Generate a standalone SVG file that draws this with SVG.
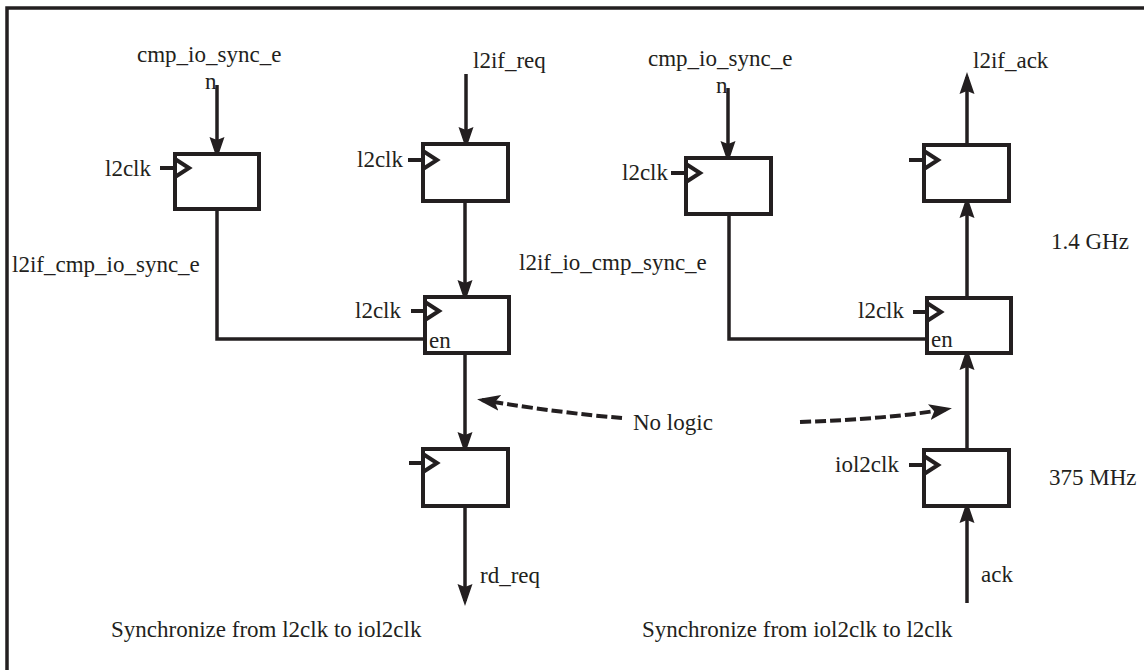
<svg xmlns="http://www.w3.org/2000/svg" width="1144" height="670" viewBox="0 0 1144 670">
<defs>
<style>
text{font-family:"Liberation Serif","Times New Roman",serif;font-size:23px;fill:#231f20}
.box{fill:#fff;stroke:#231f20;stroke-width:4}
.w{fill:none;stroke:#231f20;stroke-width:3.5}
.clk{fill:none;stroke:#231f20;stroke-width:4}
.dash{fill:none;stroke:#231f20;stroke-width:4;stroke-dasharray:11 4}
.frame{fill:none;stroke:#231f20;stroke-width:3.5}
</style>
<marker id="ah" markerUnits="userSpaceOnUse" markerWidth="22" markerHeight="16" viewBox="0 0 22 16" refX="17" refY="8" orient="auto">
<path d="M0,0.5 L22,8 L0,15.5 L3,8 z" fill="#231f20"/>
</marker>
<marker id="ahd" markerUnits="userSpaceOnUse" markerWidth="24" markerHeight="18" viewBox="0 0 24 18" refX="18" refY="9" orient="auto">
<path d="M0,1 L23,9 L0,17 L5,9 z" fill="#231f20"/>
</marker>
</defs>
<path class="frame" d="M1144,8 L7,8 L7,670"/>

<g id="connectors">
<line class="w" x1="217" y1="85" x2="217" y2="154" marker-end="url(#ah)"/>
<line class="w" x1="466" y1="74" x2="466" y2="144" marker-end="url(#ah)"/>
<line class="w" x1="728" y1="88" x2="728" y2="158" marker-end="url(#ah)"/>
<line class="w" x1="967" y1="145" x2="967" y2="77" marker-end="url(#ah)"/>
<path class="w" d="M217,209 L217,339 L425,339"/>
<path class="w" d="M729,214 L729,339 L927,339"/>
<line class="w" x1="465" y1="201" x2="465" y2="297" marker-end="url(#ah)"/>
<line class="w" x1="465" y1="353" x2="465" y2="449" marker-end="url(#ah)"/>
<line class="w" x1="465" y1="506" x2="465" y2="601" marker-end="url(#ah)"/>
<line class="w" x1="967" y1="298" x2="967" y2="201" marker-end="url(#ah)"/>
<line class="w" x1="967" y1="450" x2="967" y2="353" marker-end="url(#ah)"/>
<line class="w" x1="967" y1="603" x2="967" y2="506" marker-end="url(#ah)"/>
<path class="dash" d="M622,418 Q560,413 482,400" marker-end="url(#ahd)"/>
<path class="dash" d="M800,422 Q890,419 947,409" marker-end="url(#ahd)"/>
</g>

<g id="ff1">
<rect class="box" x="175" y="154" width="84" height="55"/>
<path class="clk" d="M160,168 L175,168 M175,159 L189,168 L175,177"/>
<text x="105" y="176">l2clk</text>
</g>
<g id="ff2">
<rect class="box" x="423" y="144" width="85" height="57"/>
<path class="clk" d="M408,160 L423,160 M423,151 L437,160 L423,169"/>
<text x="357" y="167">l2clk</text>
</g>
<g id="ff3">
<rect class="box" x="686" y="158" width="85" height="56"/>
<path class="clk" d="M671,173 L686,173 M686,164 L700,173 L686,182"/>
<text x="622" y="180">l2clk</text>
</g>
<g id="ff4">
<rect class="box" x="924" y="145" width="85" height="56"/>
<path class="clk" d="M909,160 L924,160 M924,151 L938,160 L924,169"/>
</g>
<g id="ff5">
<rect class="box" x="425" y="297" width="84" height="56"/>
<path class="clk" d="M411,311 L425,311 M425,302 L439,311 L425,320"/>
<text x="355" y="318">l2clk</text>
<text x="429" y="348">en</text>
</g>
<g id="ff6">
<rect class="box" x="927" y="298" width="84" height="55"/>
<path class="clk" d="M913,312 L927,312 M927,303 L941,312 L927,321"/>
<text x="858" y="318">l2clk</text>
<text x="931" y="347">en</text>
</g>
<g id="ff7">
<rect class="box" x="423" y="449" width="85" height="57"/>
<path class="clk" d="M409,463 L423,463 M423,454 L437,463 L423,472"/>
</g>
<g id="ff8">
<rect class="box" x="924" y="450" width="85" height="56"/>
<path class="clk" d="M909,465 L924,465 M924,456 L938,465 L924,474"/>
<text x="835" y="472">iol2clk</text>
</g>

<g id="labels">
<text x="137" y="62">cmp_io_sync_e</text>
<text x="205" y="89">n</text>
<text x="473" y="68">l2if_req</text>
<text x="648" y="66">cmp_io_sync_e</text>
<text x="716" y="93">n</text>
<text x="973" y="68">l2if_ack</text>
<text x="1051" y="249">1.4 GHz</text>
<text x="12" y="272">l2if_cmp_io_sync_e</text>
<text x="519" y="270">l2if_io_cmp_sync_e</text>
<text x="633" y="430">No logic</text>
<text x="1049" y="485">375 MHz</text>
<text x="480" y="583">rd_req</text>
<text x="981" y="582">ack</text>
<text x="111" y="637">Synchronize from l2clk to iol2clk</text>
<text x="642" y="637">Synchronize from iol2clk to l2clk</text>
</g>
</svg>
